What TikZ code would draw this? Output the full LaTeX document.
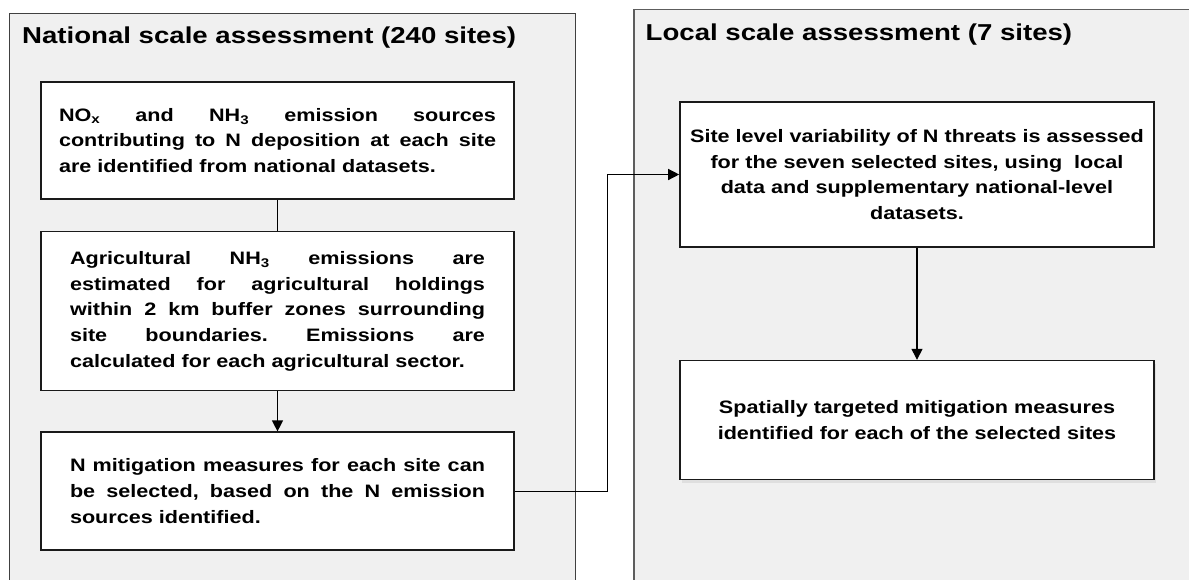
\documentclass[tikz,border=0pt]{standalone}
\usepackage{fontspec}
\setmainfont{Liberation Sans}[FakeStretch=1.2]
\usepackage{tikz}
\usetikzlibrary{arrows.meta,positioning,shadows}
\definecolor{panelfill}{HTML}{F0F0F0}
\definecolor{paneledge}{HTML}{404040}
\definecolor{boxedge}{HTML}{1A1A1A}
\tikzstyle{panel} = [draw=paneledge, line width=1pt, fill=panelfill]
\tikzstyle{title} = [anchor=base west, inner sep=0pt, font=\bfseries\fontsize{23}{28}\selectfont]
\tikzstyle{box} = [draw=boxedge, line width=1.6pt, fill=white, inner sep=0pt,
font=\bfseries\fontsize{18}{25.7}\selectfont, minimum width=473pt]
\tikzstyle{tedge} = [draw, line width=1.3pt, -{Triangle[length=11pt,width=11pt]}]
\hyphenpenalty=10000
\tolerance=10000
\frenchspacing
\begin{document}
\begin{tikzpicture}[x=1pt, y=-1pt]
\useasboundingbox (0,0) rectangle (1189,579);

% the two assessment panels (open at the bottom and right)
\draw[panel] (9,13) rectangle (575,600);
\draw[panel, line width=1.6pt, draw=paneledge!85] (634,9.5) rectangle (1220,600);
\node[title] (ntitle) at (22,43.3) {National scale assessment (240 sites)};
\node[title] (ltitle) at (645.5,40.5) {Local scale assessment (7 sites)};

% national scale =============================
\node[box, minimum height=117pt, text width=437pt, align=justify] (sources) at (277.5,140.5)
{NO\textsubscript{x} and NH\textsubscript{3} emission sources\linebreak
contributing to N deposition at each site\linebreak
are identified from national datasets.};
\node[box, minimum height=159pt, text width=415pt, align=justify, below=31pt of sources] (agri)
{Agricultural NH\textsubscript{3} emissions are\linebreak
estimated for agricultural holdings\linebreak
within 2 km buffer zones surrounding\linebreak
site boundaries. Emissions are\linebreak
calculated for each agricultural sector.};
\node[box, minimum height=118pt, text width=415pt, align=justify, below=40pt of agri] (measures)
{N mitigation measures for each site can\linebreak
be selected, based on the N emission\linebreak
sources identified.};

% local scale ================================
\node[box, minimum width=474pt, minimum height=145pt, align=center] (variab) at (917,174.5)
{Site level variability of N threats is assessed\\
for the seven selected sites, using~ local\\
data and supplementary national-level\\
datasets.};
\node[box, minimum width=474pt, minimum height=119pt, align=center, below=112pt of variab,
drop shadow={shadow xshift=2pt, shadow yshift=-3pt, opacity=0.15}] (targeted)
{Spatially targeted mitigation measures\\
identified for each of the selected sites};

% edges
\draw[line width=1.3pt] (sources) -- (agri);
\path[tedge] (agri) -- (measures);
\path[tedge] (variab) -- (targeted);
\path[tedge] (measures.east) -- ++(93,0) |- (variab.west);

\end{tikzpicture}
\end{document}
